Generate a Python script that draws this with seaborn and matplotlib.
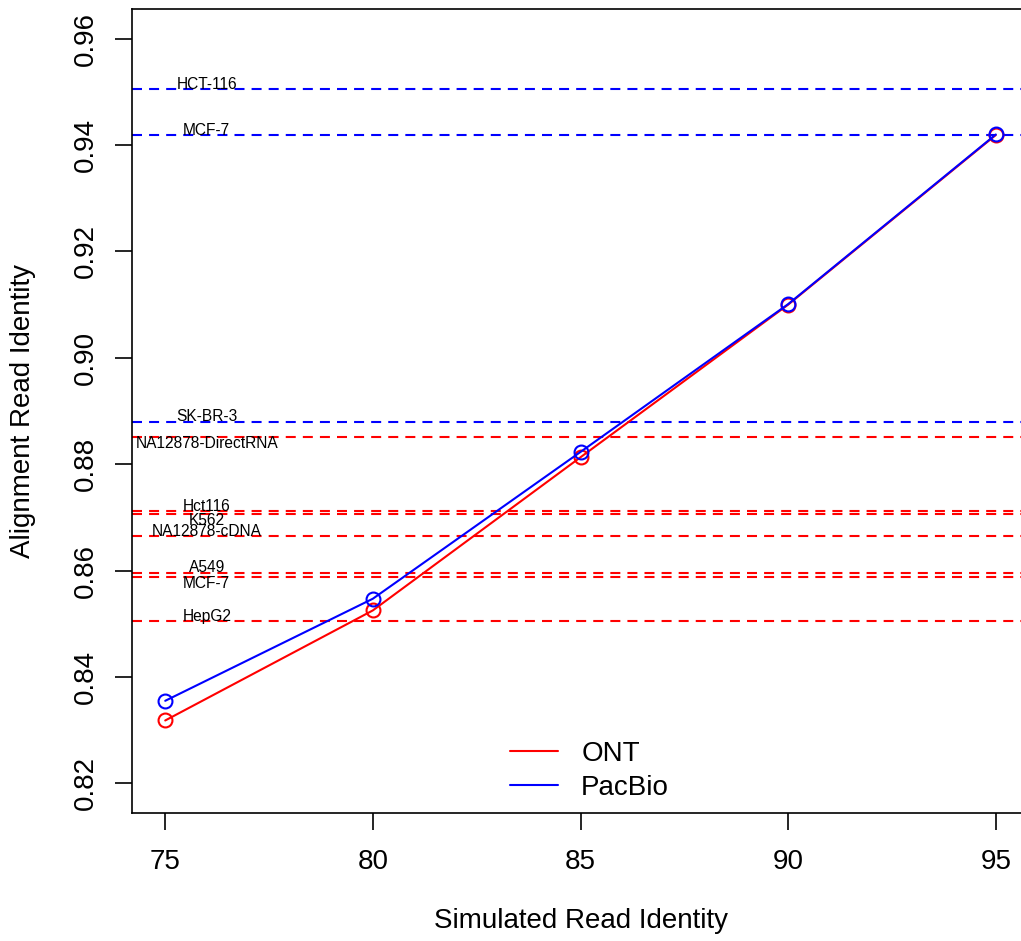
import matplotlib
matplotlib.use("Agg")
import matplotlib.pyplot as plt
from matplotlib.lines import Line2D
import seaborn as sns
import pandas as pd

# ---- data ----
sim_identity = [75, 80, 85, 90, 95]
ont_identity = [0.8318, 0.8525, 0.8813, 0.9100, 0.9419]
pacbio_identity = [0.8355, 0.8547, 0.8823, 0.9101, 0.9420]

ref_labels = ["HCT-116", "MCF-7", "SK-BR-3", "NA12878-DirectRNA", "Hct116",
              "K562", "NA12878-cDNA", "A549", "MCF-7", "HepG2"]
ref_values = [0.9506, 0.9419, 0.8880, 0.8852, 0.8712,
              0.8707, 0.8664, 0.8596, 0.8587, 0.8505]
ref_platform = ["PacBio", "PacBio", "PacBio", "ONT", "ONT",
                "ONT", "ONT", "ONT", "ONT", "ONT"]
label_side = ["above", "above", "above", "below", "above",
              "below", "above", "above", "below", "above"]

x_ticks = [75, 80, 85, 90, 95]
y_ticks = [0.82, 0.84, 0.86, 0.88, 0.90, 0.92, 0.94, 0.96]

colors = {"ONT": "#ff0000", "PacBio": "#0000ff"}

sns.set_theme(style="white")
plt.rcParams["font.family"] = ["Liberation Sans", "DejaVu Sans"]
plt.rcParams["text.color"] = "black"
plt.rcParams["axes.labelcolor"] = "black"

df = pd.DataFrame({
    "sim": sim_identity * 2,
    "align": ont_identity + pacbio_identity,
    "platform": ["ONT"] * len(sim_identity) + ["PacBio"] * len(sim_identity),
})

fig = plt.figure(figsize=(10.21, 9.41), dpi=100)
ax = fig.add_axes([132 / 1021, 1 - 813 / 941, 897 / 1021, 804 / 941])

lw = 1.5
for val, plat in zip(ref_values, ref_platform):
    ax.axhline(val, color=colors[plat], lw=lw, dashes=(4.8, 3.4), zorder=2)

for plat in ["ONT", "PacBio"]:
    sub = df[df["platform"] == plat]
    sns.lineplot(data=sub, x="sim", y="align", ax=ax, color=colors[plat],
                 lw=lw, marker="o", markersize=10, mfc="none",
                 mec=colors[plat], mew=1.5, zorder=3, legend=False)

for lab, val, side in zip(ref_labels, ref_values, label_side):
    off = 3.4 if side == "above" else -4.7
    ax.annotate(lab, xy=(76, val), xytext=(0, off), textcoords="offset points",
                ha="center", va="center", fontsize=11.2, color="black", zorder=4)

ax.set_xlim(74.2, 95.8)
ax.set_ylim(0.8144, 0.9656)
ax.set_xticks(x_ticks)
ax.set_xticklabels([str(t) for t in x_ticks])
ax.set_yticks(y_ticks)
ax.set_yticklabels([f"{t:.2f}" for t in y_ticks], rotation=90, va="center")
ax.tick_params(axis="both", which="major", direction="out", length=12,
               width=1.2, color="black", labelsize=20, labelcolor="black",
               left=True, bottom=True)
ax.tick_params(axis="x", pad=14)
ax.tick_params(axis="y", pad=12)

for sp in ax.spines.values():
    sp.set_visible(True)
    sp.set_color("black")
    sp.set_linewidth(1.2)

ax.set_xlabel("Simulated Read Identity", fontsize=20, color="black", va="center")
ax.set_ylabel("Alignment Read Identity", fontsize=20, color="black", va="center")
ax.xaxis.set_label_coords(0.5, (813 - 921) / 804)
ax.yaxis.set_label_coords((23 - 132) / 897, 0.5)

handles = [Line2D([0], [0], color=colors["ONT"], lw=lw),
           Line2D([0], [0], color=colors["PacBio"], lw=lw)]
ax.legend(handles, ["ONT", "PacBio"], loc="lower left",
          bbox_to_anchor=((499 - 132) / 897, (813 - 812) / 804),
          frameon=False, fontsize=20, handlelength=1.73, handletextpad=0.83,
          labelspacing=0.3, borderaxespad=0, labelcolor="black")

fig.savefig("out.png", dpi=100)
